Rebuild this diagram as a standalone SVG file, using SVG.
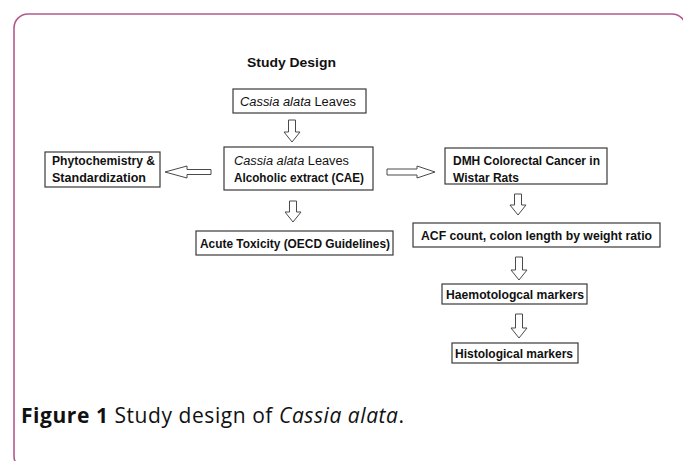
<svg xmlns="http://www.w3.org/2000/svg" width="683" height="461" viewBox="0 0 683 461">
<style>
.frame{fill:none;stroke:#b3598f;stroke-width:1.6}
.box{fill:#fff;stroke:#3a3a3a;stroke-width:1.2}
.arr{fill:#fff;stroke:#4a4a4a;stroke-width:1}
.t{font-family:"Liberation Sans",Arial,sans-serif;font-size:12.5px;fill:#111}
.b{font-weight:bold}
.i{font-style:italic}
.cap{font-family:"Open Sans","Liberation Sans",sans-serif;font-size:21px;fill:#111}
</style>
<rect class="frame" x="14" y="14" width="672" height="456" rx="14" ry="14"/>
<text class="t b" x="247" y="67" textLength="89" lengthAdjust="spacingAndGlyphs">Study Design</text>
<g id="n-leaves">
<rect class="box" x="233" y="89" width="133" height="24"/>
<text class="t" x="240" y="106" textLength="116" lengthAdjust="spacingAndGlyphs"><tspan class="i">Cassia alata</tspan> Leaves</text>
</g>
<g id="n-phyto">
<rect class="box" x="45" y="152" width="115" height="35"/>
<text class="t b" x="52" y="165" textLength="103" lengthAdjust="spacingAndGlyphs">Phytochemistry &amp;</text>
<text class="t b" x="52" y="182" textLength="94" lengthAdjust="spacingAndGlyphs">Standardization</text>
</g>
<g id="n-cae">
<rect class="box" x="224" y="147" width="149" height="43"/>
<text class="t" x="234" y="165" textLength="115" lengthAdjust="spacingAndGlyphs"><tspan class="i">Cassia alata</tspan> Leaves</text>
<text class="t b" x="234" y="182" textLength="130" lengthAdjust="spacingAndGlyphs">Alcoholic extract (CAE)</text>
</g>
<g id="n-dmh">
<rect class="box" x="445" y="148" width="162" height="36"/>
<text class="t b" x="453" y="165" textLength="147" lengthAdjust="spacingAndGlyphs">DMH Colorectal Cancer in</text>
<text class="t b" x="453" y="182" textLength="66" lengthAdjust="spacingAndGlyphs">Wistar Rats</text>
</g>
<g id="n-acute">
<rect class="box" x="196" y="231" width="197" height="24"/>
<text class="t b" x="200" y="248" textLength="190" lengthAdjust="spacingAndGlyphs">Acute Toxicity (OECD Guidelines)</text>
</g>
<g id="n-acf">
<rect class="box" x="413" y="223" width="247" height="24"/>
<text class="t b" x="421" y="239.5" textLength="231" lengthAdjust="spacingAndGlyphs">ACF count, colon length by weight ratio</text>
</g>
<g id="n-haem">
<rect class="box" x="442" y="284" width="145" height="20"/>
<text class="t b" x="446" y="298.5" textLength="138" lengthAdjust="spacingAndGlyphs">Haemotologcal markers</text>
</g>
<g id="n-hist">
<rect class="box" x="452" y="343" width="126" height="20"/>
<text class="t b" x="455" y="357.5" textLength="118" lengthAdjust="spacingAndGlyphs">Histological markers</text>
</g>
<g id="connectors">
<path class="arr" d="M288.5,120 H295.5 V132 H300 L292,142 L284,132 H288.5 Z"/>
<path class="arr" d="M289.5,201 H296.5 V212 H301 L293,222 L285,212 H289.5 Z"/>
<path class="arr" d="M514.5,194 H521.5 V205 H526 L518,215 L510,205 H514.5 Z"/>
<path class="arr" d="M515.5,257 H522.5 V270 H527 L519,280 L511,270 H515.5 Z"/>
<path class="arr" d="M515.5,314 H522.5 V328 H527 L519,338 L511,328 H515.5 Z"/>
<path class="arr" d="M211,169.5 V174.5 H187 V178 L165,172 L187,166 V169.5 Z"/>
<path class="arr" d="M387,169 V175 H417 V178 L435,172 L417,166 V169 Z"/>
</g>
<text class="cap" x="21" y="423" textLength="383" lengthAdjust="spacing"><tspan font-weight="bold">Figure 1</tspan> Study design of <tspan font-style="italic">Cassia alata</tspan>.</text>
</svg>
